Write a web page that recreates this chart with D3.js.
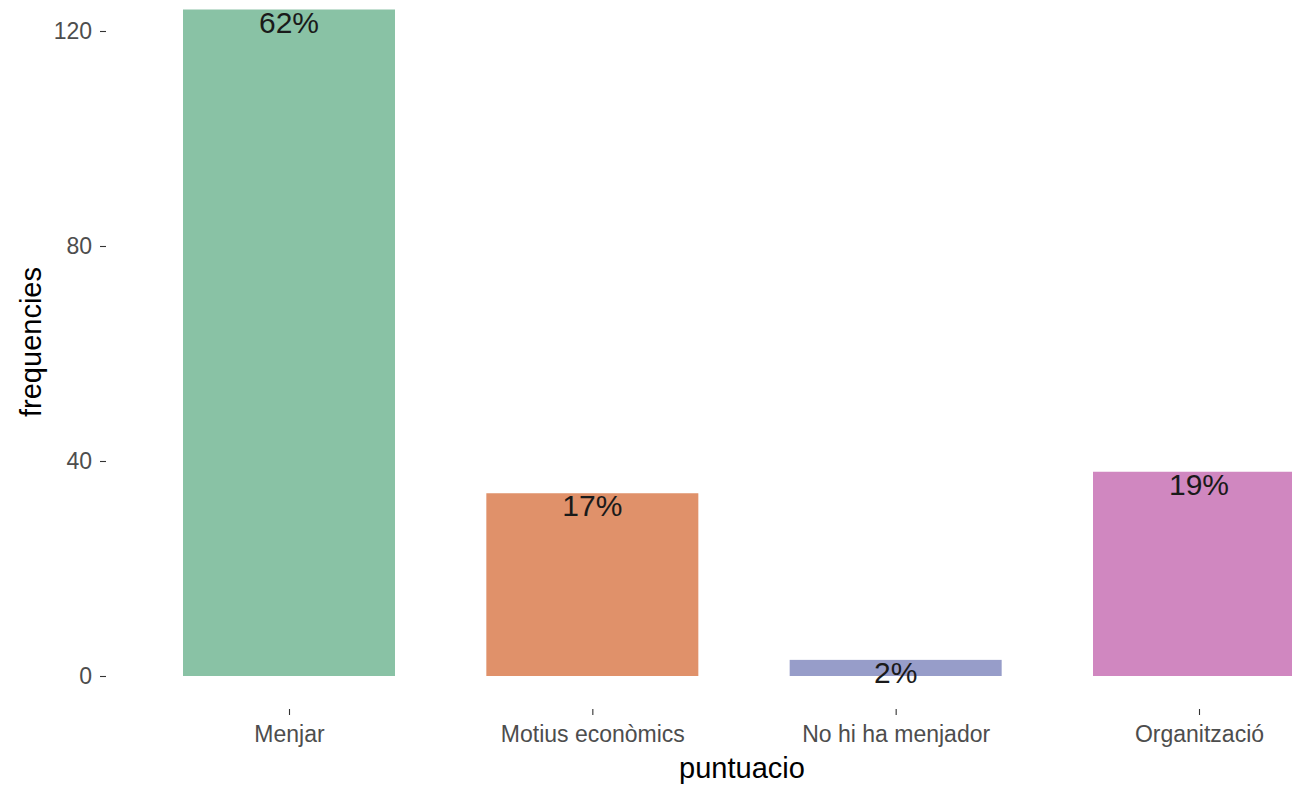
<!DOCTYPE html>
<html>
<head>
<meta charset="utf-8">
<script src="https://cdn.jsdelivr.net/npm/d3@7"></script>
<style>
  body { margin: 0; background: #fff; }
  svg { display: block; }
</style>
</head>
<body>
<div id="chart"></div>
<script>
// data
var categories = ["Menjar", "Motius econòmics", "No hi ha menjador", "Organització"];
var counts = [124, 34, 3, 38];
var pctLabels = ["62%", "17%", "2%", "19%"];
var yTicks = [0, 40, 80, 120];
var barColors = ["#89c2a5", "#e0916a", "#979dc9", "#d087c0"];

var W = 1292, H = 785;
var font = "Liberation Sans, Arial, sans-serif";

var svg = d3.select("#chart").append("svg")
  .attr("width", W)
  .attr("height", H);

// category centres at ~289 .. ~1199, last bar runs off the right edge
var x = d3.scalePoint()
  .domain(categories)
  .range([289, 1199]);
var barW = 212;

var y = d3.scaleLinear()
  .domain([0, 120])
  .range([676, 31]);

var data = categories.map(function(c, i) {
  return {cat: c, n: counts[i], lab: pctLabels[i], col: barColors[i]};
});

// bars
svg.selectAll("rect.bar")
  .data(data)
  .enter().append("rect")
  .attr("class", "bar")
  .attr("x", function(d) { return x(d.cat) - barW / 2; })
  .attr("width", barW)
  .attr("y", function(d) { return y(d.n); })
  .attr("height", function(d) { return y(0) - y(d.n); })
  .style("fill", function(d) { return d.col; });

// percent labels hang just under the bar top
svg.selectAll("text.pct")
  .data(data)
  .enter().append("text")
  .attr("class", "pct")
  .attr("x", function(d) { return x(d.cat); })
  .attr("y", function(d) { return y(d.n) + 23; })
  .attr("text-anchor", "middle")
  .style("font-family", font)
  .style("font-size", "30px")
  .style("fill", "#1a1a1a")
  .text(function(d) { return d.lab; });

// y axis
var gy = svg.append("g")
  .attr("transform", "translate(106,0)")
  .call(d3.axisLeft(y).tickValues(yTicks).tickSize(6).tickPadding(8));
gy.select(".domain").remove();
gy.selectAll("line").attr("stroke", "#333").attr("stroke-width", 1.1);
gy.selectAll("text")
  .style("font-family", font)
  .style("font-size", "23px")
  .style("fill", "#4d4d4d");

// x axis
var gx = svg.append("g")
  .attr("transform", "translate(0,709)")
  .call(d3.axisBottom(x).tickSize(6).tickPadding(11));
gx.select(".domain").remove();
gx.selectAll("line").attr("stroke", "#333").attr("stroke-width", 1.1);
gx.selectAll("text")
  .style("font-family", font)
  .style("font-size", "23px")
  .style("fill", "#4d4d4d");

// axis titles
svg.append("text")
  .attr("x", 742)
  .attr("y", 778)
  .attr("text-anchor", "middle")
  .style("font-family", font)
  .style("font-size", "29px")
  .style("fill", "#000")
  .text("puntuacio");

svg.append("text")
  .attr("transform", "translate(41,342) rotate(-90)")
  .attr("text-anchor", "middle")
  .style("font-family", font)
  .style("font-size", "29px")
  .style("fill", "#000")
  .text("frequencies");
</script>
</body>
</html>
